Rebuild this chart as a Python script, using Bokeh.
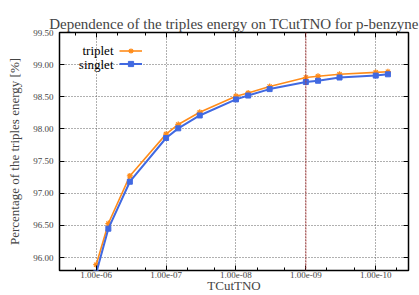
from bokeh.plotting import figure
from bokeh.models import (Range1d, FixedTicker, CustomJSTickFormatter, PrintfTickFormatter,
                          LogAxis, LinearAxis, Span, Label, Legend, LegendItem)
from bokeh.embed import file_html
from bokeh.resources import INLINE

# ---- data ----
tcut = [1e-6, 6.7e-7, 3.3e-7, 1e-7, 6.7e-8, 3.3e-8, 1e-8, 6.7e-9, 3.3e-9,
        1e-9, 6.7e-10, 3.3e-10, 1e-10, 6.7e-11]
triplet = [95.89, 96.53, 97.27, 97.92, 98.07, 98.26, 98.51, 98.56, 98.66,
           98.80, 98.82, 98.85, 98.88, 98.89]
singlet = [95.76, 96.45, 97.18, 97.86, 98.01, 98.21, 98.46, 98.52, 98.62,
           98.73, 98.75, 98.80, 98.83, 98.85]
x_ticks = [1e-6, 1e-7, 1e-8, 1e-9, 1e-10]
x_minor = [m * d for d in [1e-5, 1e-6, 1e-7, 1e-8, 1e-9, 1e-10, 1e-11] for m in (2, 5)]
y_ticks = [96.0, 96.5, 97.0, 97.5, 98.0, 98.5, 99.0, 99.5]
marked_cut = 1e-9
title_text = "Dependence of the triples energy on TCutTNO for p-benzyne"

SERIF = "Liberation Serif"
ORANGE = "#ff8c1a"
BLUE = "#4169e1"

W, H = 419, 295
TOP, BOTTOM, LEFT, RIGHT = 32, 25, 59, 11
FH = H - TOP - BOTTOM

p = figure(width=W, height=H, x_axis_type="log",
           x_range=Range1d(3.35e-6, 3.4e-11), y_range=Range1d(95.8, 99.5),
           output_backend="svg", toolbar_location=None,
           min_border_top=TOP, min_border_bottom=BOTTOM,
           min_border_left=LEFT, min_border_right=RIGHT)
p.background_fill_color = "white"
p.border_fill_color = "white"
p.outline_line_color = "black"
p.outline_line_width = 1.5

p.title.text = title_text
p.title.text_font = SERIF
p.title.text_font_style = "normal"
p.title.text_font_size = "15px"
p.title.align = "center"
p.title.standoff = 2
p.title.offset = 0

# axes
xa = p.xaxis[0]
xa.ticker = FixedTicker(ticks=x_ticks, minor_ticks=x_minor)
xa.formatter = CustomJSTickFormatter(code="""
    var s = tick.toExponential(2);
    return s.replace(/e([+-])(\\d)$/, 'e$10$2');
""")
xa.axis_label = "TCutTNO"
xa.axis_label_text_font = SERIF
xa.axis_label_text_font_style = "normal"
xa.axis_label_text_font_size = "13px"
xa.axis_label_standoff = -3

ya = p.yaxis[0]
ya.ticker = FixedTicker(ticks=y_ticks)
ya.formatter = PrintfTickFormatter(format="%.2f")
ya.axis_label = "Percentage of the triples energy [%]"
ya.axis_label_text_font = SERIF
ya.axis_label_text_font_style = "normal"
ya.axis_label_text_font_size = "13px"
ya.axis_label_standoff = 8

for ax in (xa, ya):
    ax.major_label_text_font = SERIF
    ax.major_label_text_font_size = "9px"
    ax.major_tick_in = 5
    ax.major_tick_out = 0
    ax.minor_tick_in = 3
    ax.minor_tick_out = 0
    ax.axis_line_color = None
    ax.major_tick_line_color = "black"
    ax.minor_tick_line_color = "black"
xa.major_label_standoff = 1
ya.major_label_standoff = 6

# mirrored axes (ticks only)
empty = CustomJSTickFormatter(code="return '';")
top_ax = LogAxis(ticker=FixedTicker(ticks=x_ticks, minor_ticks=x_minor), formatter=empty)
right_ax = LinearAxis(ticker=FixedTicker(ticks=y_ticks), formatter=empty)
for ax in (top_ax, right_ax):
    ax.major_tick_in = 5
    ax.major_tick_out = 0
    ax.minor_tick_in = 3
    ax.minor_tick_out = 0
    ax.axis_line_color = None
    ax.major_label_standoff = 0
    ax.major_label_text_font_size = "1px"
right_ax.minor_tick_line_color = None
p.add_layout(top_ax, "above")
p.add_layout(right_ax, "right")

# grid
p.xgrid.ticker = FixedTicker(ticks=x_ticks)
p.ygrid.ticker = FixedTicker(ticks=y_ticks)
for g in (p.xgrid[0], p.ygrid[0]):
    g.grid_line_color = "#606060"
    g.grid_line_dash = "1 2"
    g.grid_line_width = 1

# marked value
p.add_layout(Span(location=marked_cut, dimension="height", line_color="#b03a3a",
                  line_dash="2 1", line_width=1.2, line_alpha=0.8))

# series
l1 = p.line(tcut, triplet, line_color=ORANGE, line_width=1.6)
m1 = p.scatter(tcut, triplet, marker="asterisk", size=6, line_color=ORANGE, line_width=1.3)
l2 = p.line(tcut, singlet, line_color=BLUE, line_width=2)
m2 = p.scatter(tcut, singlet, marker="square", size=5, fill_color=BLUE, line_color=BLUE)

# legend (samples on the right of the text, gnuplot-style)
leg = Legend(items=[LegendItem(label=" ", renderers=[l1, m1]),
                    LegendItem(label=" ", renderers=[l2, m2])],
             location=(60, FH - 38), padding=0, margin=0, spacing=0,
             glyph_width=23, glyph_height=13, label_width=0, label_height=13,
             label_standoff=0, label_text_font_size="6px",
             border_line_alpha=0, background_fill_alpha=0)
p.add_layout(leg)
for txt, yy in (("triplet", FH - 18), ("singlet", FH - 31.5)):
    p.add_layout(Label(x=54, y=yy, x_units="screen", y_units="screen", text=txt,
                       text_font=SERIF, text_font_size="13px", text_align="right",
                       text_baseline="middle", text_color="black"))

open("out.html", "w").write(file_html(p, INLINE))
